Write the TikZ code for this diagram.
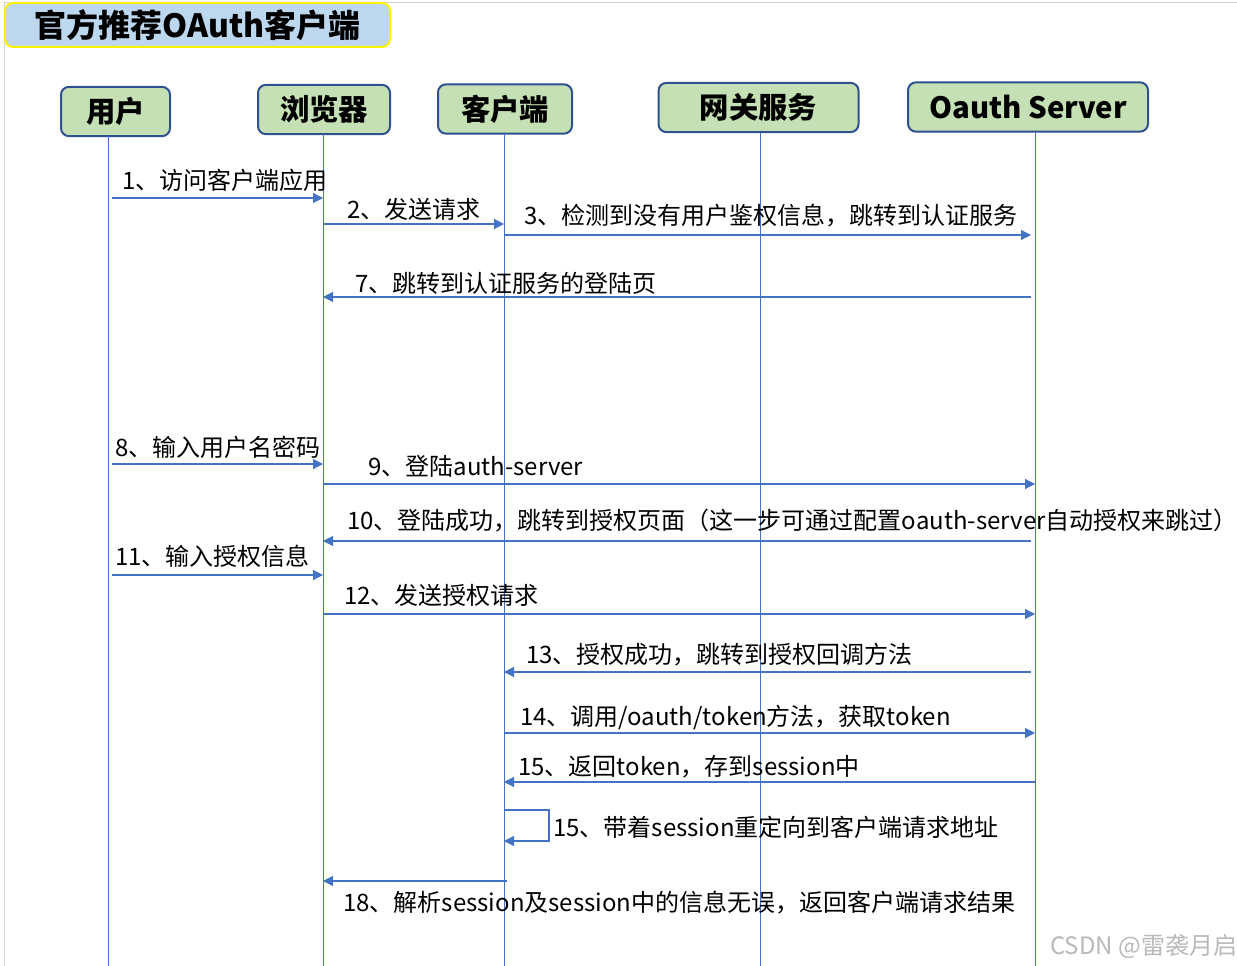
\documentclass[tikz,border=0pt]{standalone}
\usepackage{fontspec}
\setmainfont{Noto Sans CJK SC}
\usepackage{tikz}
\usetikzlibrary{arrows.meta}

\definecolor{headfill}{HTML}{C5E0B4}
\definecolor{headline}{HTML}{2F528F}
\definecolor{titlefill}{HTML}{BDD7EE}
\definecolor{msgblue}{HTML}{4472C4}

\begin{document}
\begin{tikzpicture}[
        x = 0.75pt, y = -0.75pt,
        head/.style = {
            draw = headline,
            fill = headfill,
            line width = 1.5pt,
            rounded corners = 6pt,
            minimum height = 37pt,
            inner sep = 0pt,
            font = \fontsize{22}{24}\selectfont\bfseries
        },
        life/.style = {draw = msgblue, line width = 0.75pt},
        msg/.style = {draw = msgblue, line width = 0.8pt,
            -{Triangle[length=7.5pt, width=7.5pt]}},
        lbl/.style = {anchor = west, inner sep = 0pt,
            font = \fontsize{18}{20}\selectfont}
        ]
%
        \useasboundingbox (0,0) rectangle (1237,966);
        \draw[gray!35, line width = 0.75pt] (4,966) -- (4,3) -- (1237,3);
%
        \node[draw = yellow, fill = titlefill, line width = 1.5pt, rounded corners = 6pt,
              minimum width = 288.75pt, minimum height = 33pt, inner sep = 0pt,
              font = \fontsize{24}{26}\selectfont\bfseries] (title) at (197.5,25) {官方推荐OAuth客户端};
%
        \node[head, minimum width = 81.75pt] (user) at (115.5,111.5) {用户};
        \node[head, minimum width = 99pt] (browser) at (324,109.5) {浏览器};
        \node[head, minimum width = 100.5pt] (client) at (505,109) {客户端};
        \node[head, minimum width = 150pt] (gateway) at (758.5,107.5) {网关服务};
        \node[head, minimum width = 180pt] (oauth) at (1028,107) {Oauth Server};
%
        \coordinate (userL) at (108,136);
        \coordinate (browserL) at (323,134);
        \coordinate (clientL) at (504,134);
        \coordinate (gatewayL) at (760,133);
        \coordinate (oauthL) at (1035,132);
%
        \draw[life] (userL) -- (userL |- 0,966);
        \draw[life] (browserL) -- (browserL |- 0,966);
        \draw[life] (clientL) -- (clientL |- 0,966);
        \draw[life] (gatewayL) -- (gatewayL |- 0,966);
        \draw[life] (oauthL) -- (oauthL |- 0,966);
%
% 
        \draw[msg] ([xshift=3pt]userL |- 0,198) -- (browserL |- 0,198);
        \node[lbl] (m1) at (122,180) {1、访问客户端应用};
        \draw[msg] (browserL |- 0,224) -- (clientL |- 0,224);
        \node[lbl] (m2) at (347,209) {2、发送请求};
        \draw[msg] (clientL |- 0,235) -- ([xshift=-3pt]oauthL |- 0,235);
        \node[lbl] (m3) at (524,216) {3、检测到没有用户鉴权信息，跳转到认证服务};
        \draw[msg] ([xshift=-3pt]oauthL |- 0,297) -- (browserL |- 0,297);
        \node[lbl] (m7) at (355,283) {7、跳转到认证服务的登陆页};
%
        \draw[msg] ([xshift=3pt]userL |- 0,464) -- (browserL |- 0,464);
        \node[lbl] (m8) at (115,447) {8、输入用户名密码};
        \draw[msg] (browserL |- 0,484) -- (oauthL |- 0,484);
        \node[lbl] (m9) at (368,466) {9、登陆auth-server};
        \draw[msg] ([xshift=-3pt]oauthL |- 0,541) -- (browserL |- 0,541);
        \node[lbl] (m10) at (347,521) {10、登陆成功，跳转到授权页面（这一步可通过配置oauth-server自动授权来跳过）};
        \draw[msg] ([xshift=3pt]userL |- 0,575) -- (browserL |- 0,575);
        \node[lbl] (m11) at (115,556) {11、输入授权信息};
        \draw[msg] (browserL |- 0,614) -- (oauthL |- 0,614);
        \node[lbl] (m12) at (344,595) {12、发送授权请求};
%
        \draw[msg] ([xshift=-3pt]oauthL |- 0,672) -- (clientL |- 0,672);
        \node[lbl] (m13) at (526,655) {13、授权成功，跳转到授权回调方法};
        \draw[msg] (clientL |- 0,733) -- (oauthL |- 0,733);
        \node[lbl] (m14) at (520,717) {14、调用/oauth/token方法，获取token};
        \draw[msg] (oauthL |- 0,782) -- (clientL |- 0,782);
        \node[lbl] (m15) at (518,767) {15、返回token，存到session中};
%
        \coordinate (loop) at (549,841);
        \draw[msg] (clientL |- 0,810) -| (loop) -- (clientL |- 0,841);
        \node[lbl] (m16) at (553,827) {15、带着session重定向到客户端请求地址};
        \draw[msg] ([xshift=2pt]clientL |- 0,881) -- (browserL |- 0,881);
        \node[lbl] (m18) at (343,903) {18、解析session及session中的信息无误，返回客户端请求结果};
%
        \node[lbl, text = gray!55] (mark) at (1050,946) {CSDN @雷袭月启};
%
    \end{tikzpicture}
\end{document}
